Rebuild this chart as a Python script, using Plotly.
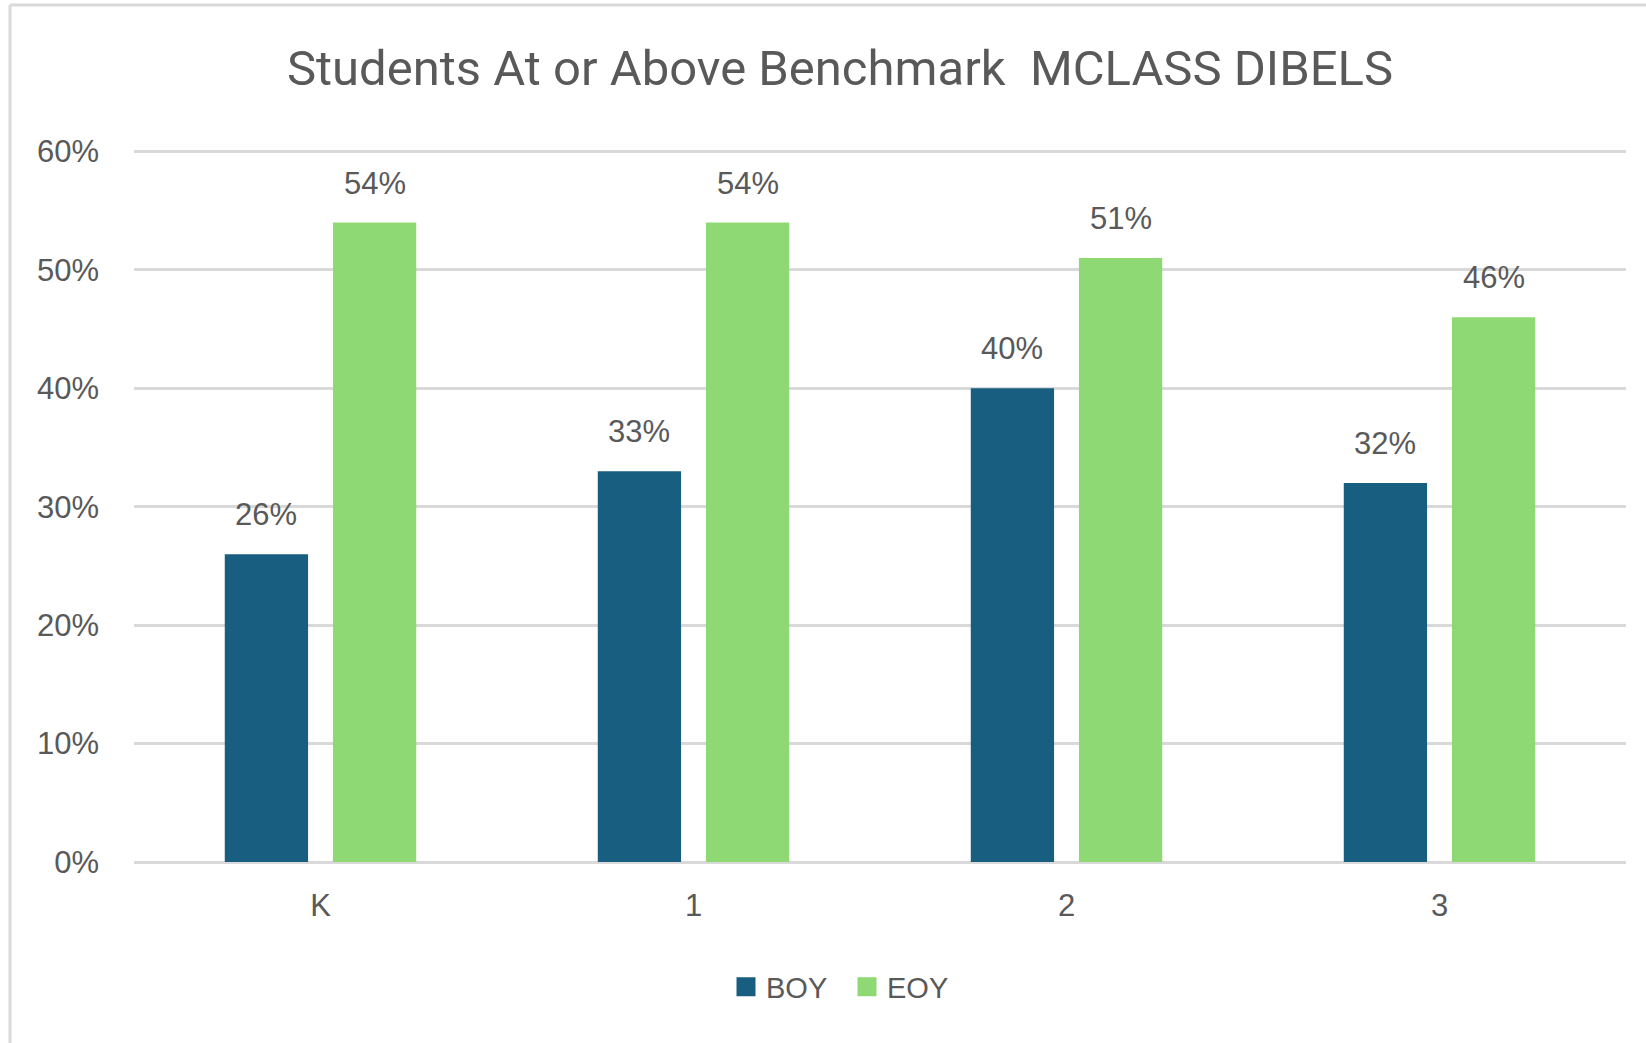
import plotly.graph_objects as go

categories = ["K", "1", "2", "3"]
boy_values = [0.26, 0.33, 0.40, 0.32]
eoy_values = [0.54, 0.54, 0.51, 0.46]
series_names = ["BOY", "EOY"]
series_colors = ["#185E80", "#8ED973"]
y_ticks = [0, 0.1, 0.2, 0.3, 0.4, 0.5, 0.6]

W, H = 1646, 1043
ML, MR, MB = 134, 20, 181
Y_TOP = 0.603
MT = 152 - int(round((Y_TOP - 0.6) / 0.6 * 710))
BARGAP = 0.42
BARGROUPGAP = 0.23
TEXT = "#595959"
GRID = "#D9D9D9"
FONT = "Liberation Sans, Arial, sans-serif"

fig = go.Figure()
for name, vals, col in zip(series_names, [boy_values, eoy_values], series_colors):
    fig.add_trace(go.Bar(x=categories, y=vals, name=name, marker_color=col,
                         marker_line_width=0, showlegend=False))
# legend entries with larger square swatches
for name, col in zip(series_names, series_colors):
    fig.add_trace(go.Scatter(x=[None], y=[None], mode="markers", name=name,
                             marker=dict(symbol="square", size=16, color=col,
                                         line=dict(width=3, color=col))))

plot_w = W - ML - MR
plot_h = H - MT - MB
cat_px = plot_w / len(categories)
slot_px = cat_px * (1 - BARGAP) / 2
annotations = []
for k, vals in enumerate([boy_values, eoy_values]):
    shift = (k - 0.5) * slot_px
    for c, v in zip(categories, vals):
        annotations.append(dict(x=c, y=v, xref="x", yref="y", text=f"{round(v*100)}%",
                                showarrow=False, xshift=shift, yshift=20, yanchor="bottom",
                                font=dict(family=FONT, size=31, color=TEXT)))

bx = -(ML - 10) / plot_w
ty = 1 + (MT - 5) / plot_h
by = -MB / plot_h
shapes = [
    dict(type="line", xref="paper", yref="paper", x0=bx, x1=bx, y0=by - 0.05, y1=ty,
         line=dict(color=GRID, width=3)),
    dict(type="line", xref="paper", yref="paper", x0=bx, x1=1 + MR / plot_w + 0.05, y0=ty, y1=ty,
         line=dict(color=GRID, width=3)),
]

fig.update_layout(
    width=W, height=H,
    margin=dict(l=ML, r=MR, t=MT, b=MB),
    paper_bgcolor="white", plot_bgcolor="white",
    barmode="group", bargap=BARGAP, bargroupgap=BARGROUPGAP,
    title=dict(text="Students At or Above Benchmark  MCLASS DIBELS",
               x=840 / W, xanchor="center", y=1 - 68 / H, yanchor="middle",
               font=dict(family="Roboto, sans-serif", size=49, color=TEXT)),
    font=dict(family=FONT, color=TEXT),
    legend=dict(orientation="h", x=(847 - ML) / plot_w, xanchor="center",
                y=-(987 - (H - MB)) / plot_h, yanchor="middle",
                font=dict(family=FONT, size=29, color=TEXT), itemwidth=30,
                entrywidth=76, entrywidthmode="pixels",
                traceorder="normal"),
    annotations=annotations,
    shapes=shapes,
)
fig.update_xaxes(showgrid=False, showline=False, ticks="", zeroline=False,
                 tickfont=dict(family=FONT, size=31, color=TEXT), ticklabelstandoff=22)
fig.update_yaxes(range=[0, Y_TOP], tickvals=y_ticks, tickformat=".0%", showgrid=True,
                 gridcolor=GRID, gridwidth=2.5, zeroline=True, zerolinecolor=GRID,
                 zerolinewidth=2.5, showline=False, ticks="",
                 tickfont=dict(family=FONT, size=31, color=TEXT), ticklabelstandoff=34)

fig.write_html("out.html", config={"displayModeBar": False},
               post_script="document.body.style.margin='0';")
